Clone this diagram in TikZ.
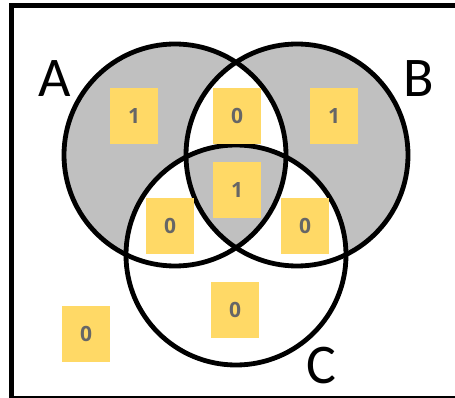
\documentclass[tikz,border=0pt]{standalone}
\usepackage{fontspec}
\setmainfont{Carlito}
\newfontfamily\boxfont{Open Sans}
\definecolor{shadegray}{HTML}{C0C0C0}
\definecolor{boxy}{HTML}{FFD966}
\definecolor{digit}{HTML}{666666}
\begin{document}
\begin{tikzpicture}[x=1pt,y=-1pt,
  valbox/.style={fill=boxy,minimum width=48pt,minimum height=56pt,inner sep=0pt,
    text=digit,font=\boxfont\bfseries\fontsize{21}{21}\selectfont},
  setlabel/.style={font=\fontsize{56}{56}\selectfont,inner sep=0pt},
  ring/.style={line width=4.8pt}]
\useasboundingbox (0,0) rectangle (455,398);
\fill[white] (0,0) rectangle (455,398);
\def\circA{(175,155) circle[radius=111]}
\def\circB{(297,155) circle[radius=111]}
\def\circC{(236,255) circle[radius=110]}
% shading
\fill[shadegray] \circA;
\fill[shadegray] \circB;
\begin{scope}
  \clip \circA;
  \fill[white] \circB;
\end{scope}
\fill[white] \circC;
\begin{scope}
  \clip \circA;
  \clip \circB;
  \fill[shadegray] \circC;
\end{scope}
% circles
\draw[ring] \circA;
\draw[ring] \circB;
\draw[ring] \circC;
% frame
\draw[line width=5pt] (460,5.5) -- (11.5,5.5) -- (11.5,400);
\draw[line width=2.5pt] (11.5,397.5) -- (460,397.5);
% labels
\node[setlabel] (la) at (55,79) {A};
\node[setlabel] (lb) at (419,79) {B};
\node[setlabel] (lc) at (321,366) {C};
% value boxes
\node[valbox] (a) at (134,116) {1};
\node[valbox] (ab) at (237,116) {0};
\node[valbox] (b) at (334,116) {1};
\node[valbox] (abc) at (237,190) {1};
\node[valbox] (ac) at (170,226) {0};
\node[valbox] (bc) at (305,226) {0};
\node[valbox] (c) at (235,310) {0};
\node[valbox] (out) at (86,334) {0};
\end{tikzpicture}
\end{document}
